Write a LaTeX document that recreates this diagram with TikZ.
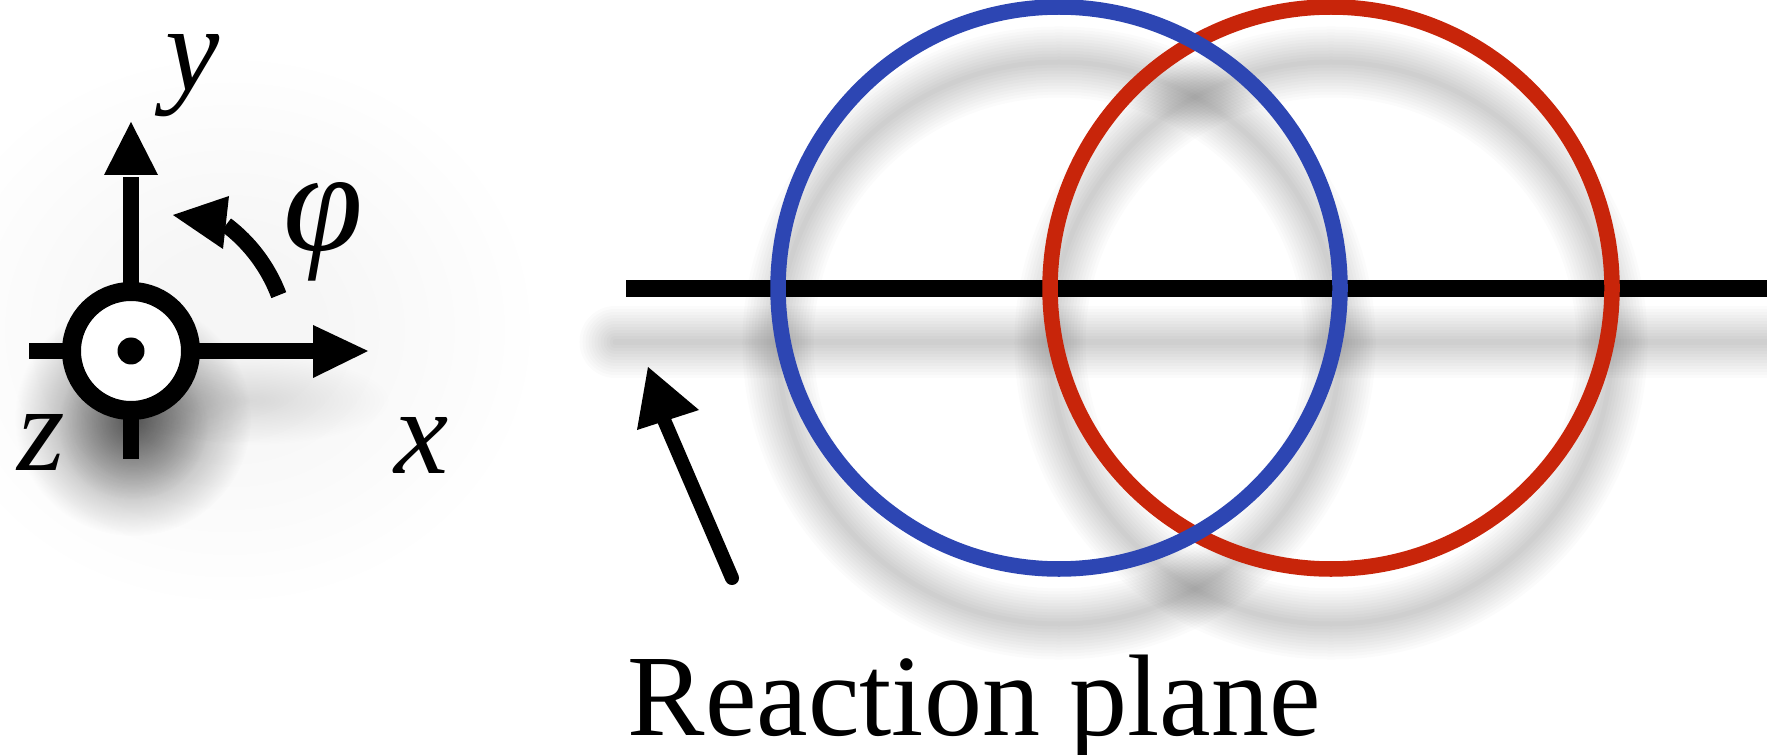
\documentclass[tikz,border=0pt]{standalone}
\usepackage{fontspec}
\setmainfont{Liberation Serif}
\usetikzlibrary{fadings}
\definecolor{ringblue}{HTML}{2D46B3}
\definecolor{ringred}{HTML}{C8250A}
\tikzfading[name=softdisc, inner color=transparent!0, outer color=transparent!100]
\tikzset{
  shadowlayer/.style={black, opacity=0.014},
  hazelayer/.style={black, opacity=0.004},
  axisline/.style={line width=0.16cm},
  ring/.style={line width=0.155cm},
  axlabel/.style={inner sep=0pt, font=\fontsize{34.7}{40}\selectfont\itshape},
}
\begin{document}
\begin{tikzpicture}[x=0.01cm,y=-0.01cm]
\useasboundingbox (0,0) rectangle (1767,755);
\fill[white] (0,0) rectangle (1767,755);

% ---- faint haze on the left
\foreach \r in {100,125,...,300} {
  \fill[hazelayer] (230,330) ellipse ({\r} and {\r*0.9});
}
% ---- shadow of the axes symbol
\fill[black, opacity=0.55, path fading=softdisc] (133,418) circle (118);
\fill[black, opacity=0.25, path fading=softdisc] (133,425) circle (75);
\fill[black, opacity=0.12, path fading=softdisc] (250,400) ellipse (140 and 45);

% ---- shadows of line and rings
\foreach \w in {0.05,0.11,0.17,0.23,0.29,0.35,0.41,0.47,0.53,0.59,0.65,0.71} {
  \draw[shadowlayer, line width=\w cm, line cap=round] (615,342) -- (1800,342);
  \draw[shadowlayer, line width=\w cm] (1331,343) circle (281);
  \draw[shadowlayer, line width=\w cm] (1059,343) circle (281);
}

% ---- reaction plane line and rings
\draw[axisline] (626,288.5) -- (1767,288.5);
\draw[ring, ringred] (1331,288) circle (281);
\draw[ring, ringblue] (1059,288) circle (281);

% ---- axes symbol
\draw[axisline] (29,351) -- (64,351);
\draw[axisline] (199,351) -- (315,351);
\fill (313,325) -- (368,351) -- (313,378) -- cycle;
\draw[axisline] (131,284) -- (131,177);
\fill (104,175) -- (131,122) -- (158,175) -- cycle;
\draw[axisline] (131,418) -- (131,459);
\draw[line width=0.19cm, fill=white] (131,351) circle (59.5);
\fill (131,351) circle (13.5);

% ---- phi arc
\draw[line width=0.16cm] (131,351) ++(-20.7:158) arc[start angle=-20.7, end angle=-53, radius=158];
\fill (173,215) -- (229,196) -- (223,249) -- cycle;

% ---- labels
\node[axlabel] (ylab) at (193,76) {y};
\node[axlabel, font=\fontsize{41}{46}\selectfont\itshape] (philab) at (323,232) {φ};
\node[axlabel] (zlab) at (41,442) {z};
\node[axlabel] (xlab) at (422,445) {x};

% ---- pointer arrow
\coordinate (ptail) at (732,578);
\coordinate (phead) at (664,420);
\draw[line width=0.14cm, line cap=round] (ptail) -- (phead);
\fill (648,367) -- (699,410) -- (637,430) -- cycle;

\node[anchor=base west, inner sep=0pt, font=\fontsize{33}{38}\selectfont] (rp) at (627,735) {Reaction plane};
\end{tikzpicture}
\end{document}
